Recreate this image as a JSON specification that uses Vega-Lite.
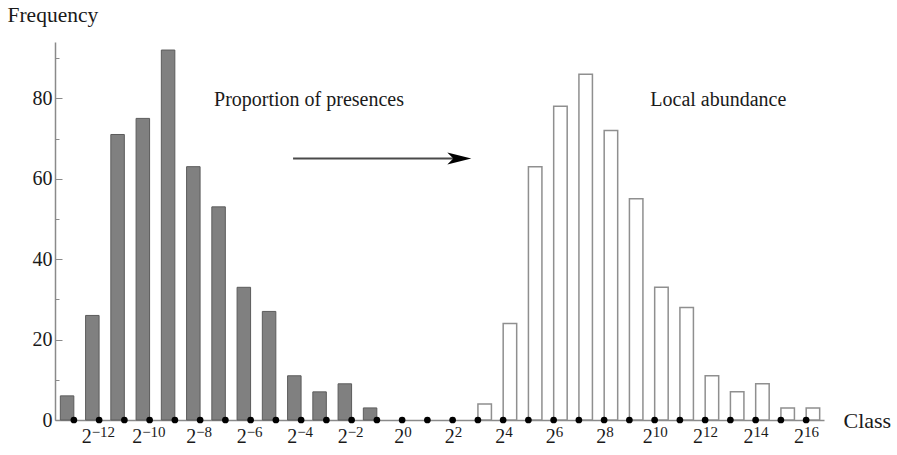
{
  "$schema": "https://vega.github.io/schema/vega-lite/v6.json",
  "width": 769,
  "height": 378,
  "padding": {"left": 55, "top": 42, "right": 73, "bottom": 35},
  "autosize": {"type": "none"},
  "background": "white",
  "config": {
    "view": {"stroke": null},
    "font": "Liberation Serif",
    "axis": {
      "labelFont": "Liberation Serif",
      "titleFont": "Liberation Serif",
      "labelColor": "#1a1a1a",
      "titleColor": "#1a1a1a",
      "titleFontWeight": "normal",
      "grid": false
    },
    "text": {"font": "Liberation Serif", "color": "#1a1a1a"}
  },
  "datasets": {
    "classes": [
      {"exponent": -13, "series": "Proportion of presences", "frequency": 6},
      {"exponent": -12, "series": "Proportion of presences", "frequency": 26},
      {"exponent": -11, "series": "Proportion of presences", "frequency": 71},
      {"exponent": -10, "series": "Proportion of presences", "frequency": 75},
      {"exponent": -9, "series": "Proportion of presences", "frequency": 92},
      {"exponent": -8, "series": "Proportion of presences", "frequency": 63},
      {"exponent": -7, "series": "Proportion of presences", "frequency": 53},
      {"exponent": -6, "series": "Proportion of presences", "frequency": 33},
      {"exponent": -5, "series": "Proportion of presences", "frequency": 27},
      {"exponent": -4, "series": "Proportion of presences", "frequency": 11},
      {"exponent": -3, "series": "Proportion of presences", "frequency": 7},
      {"exponent": -2, "series": "Proportion of presences", "frequency": 9},
      {"exponent": -1, "series": "Proportion of presences", "frequency": 3},
      {"exponent": 0, "series": "Proportion of presences", "frequency": 0},
      {"exponent": 1, "series": "Proportion of presences", "frequency": 0},
      {"exponent": 2, "series": "Local abundance", "frequency": 0},
      {"exponent": 3, "series": "Local abundance", "frequency": 4},
      {"exponent": 4, "series": "Local abundance", "frequency": 24},
      {"exponent": 5, "series": "Local abundance", "frequency": 63},
      {"exponent": 6, "series": "Local abundance", "frequency": 78},
      {"exponent": 7, "series": "Local abundance", "frequency": 86},
      {"exponent": 8, "series": "Local abundance", "frequency": 72},
      {"exponent": 9, "series": "Local abundance", "frequency": 55},
      {"exponent": 10, "series": "Local abundance", "frequency": 33},
      {"exponent": 11, "series": "Local abundance", "frequency": 28},
      {"exponent": 12, "series": "Local abundance", "frequency": 11},
      {"exponent": 13, "series": "Local abundance", "frequency": 7},
      {"exponent": 14, "series": "Local abundance", "frequency": 9},
      {"exponent": 15, "series": "Local abundance", "frequency": 3},
      {"exponent": 16, "series": "Local abundance", "frequency": 3}
    ],
    "notes": [
      {"exponent": -7.45, "frequency": 78, "text": "Proportion of presences"},
      {"exponent": 9.83, "frequency": 78, "text": "Local abundance"}
    ],
    "arrow": [
      {"from": -4.32, "to": 2.74, "frequency": 65}
    ]
  },
  "layer": [
    {
      "data": {"name": "classes"},
      "transform": [{"filter": "datum.series === 'Proportion of presences' && datum.frequency > 0"}],
      "mark": {"type": "bar", "width": 13.5, "xOffset": -6.8, "fill": "#808080", "stroke": "#5c5c5c", "strokeWidth": 1},
      "encoding": {
        "x": {
          "field": "exponent",
          "type": "quantitative",
          "scale": {"domain": [-13.55, 16.51], "nice": false, "zero": false},
          "axis": {
            "values": [-12, -10, -8, -6, -4, -2, 0, 2, 4, 6, 8, 10, 12, 14, 16],
            "ticks": false,
            "labels": false,
            "domainColor": "#8a8a8a",
            "domainWidth": 1.5,
            "title": "Class",
            "titleFontSize": 22,
            "titleAlign": "left",
            "titleBaseline": "middle",
            "titleX": 788,
            "titleY": 0
          }
        },
        "y": {
          "field": "frequency",
          "type": "quantitative",
          "scale": {"domain": [0, 94], "nice": false},
          "axis": {
            "values": [0, 5, 10, 15, 20, 25, 30, 35, 40, 45, 50, 55, 60, 65, 70, 75, 80, 85, 90],
            "labelExpr": "datum.value % 20 === 0 ? datum.label : ''",
            "tickSize": {"condition": {"test": "datum.value % 20 === 0", "value": -7}, "value": -4},
            "tickColor": "#8a8a8a",
            "domainColor": "#8a8a8a",
            "domainWidth": 1.5,
            "labelFontSize": 20,
            "labelPadding": 10,
            "title": "Frequency",
            "titleFontSize": 21.5,
            "titleAngle": 0,
            "titleAlign": "left",
            "titleBaseline": "middle",
            "titleX": -48,
            "titleY": -27
          }
        }
      }
    },
    {
      "data": {"name": "classes"},
      "transform": [{"filter": "datum.series === 'Local abundance' && datum.frequency > 0"}],
      "mark": {"type": "bar", "width": 13.5, "xOffset": 6.8, "fill": "white", "stroke": "#8f8f8f", "strokeWidth": 1.5},
      "encoding": {
        "x": {"field": "exponent", "type": "quantitative"},
        "y": {"field": "frequency", "type": "quantitative"}
      }
    },
    {
      "data": {"name": "classes"},
      "mark": {"type": "point", "filled": true, "color": "black", "size": 45, "opacity": 1},
      "encoding": {
        "x": {"field": "exponent", "type": "quantitative"},
        "y": {"datum": 0}
      }
    },
    {
      "data": {"name": "classes"},
      "transform": [{"filter": "datum.exponent % 2 === 0 && datum.exponent <= -10"}],
      "mark": {"type": "text", "align": "right", "baseline": "alphabetic", "fontSize": 20, "xOffset": -7.5, "yOffset": 22.7},
      "encoding": {"x": {"field": "exponent", "type": "quantitative"}, "y": {"datum": 0}, "text": {"value": "2"}}
    },
    {
      "data": {"name": "classes"},
      "transform": [{"filter": "datum.exponent % 2 === 0 && datum.exponent <= -10"}],
      "mark": {"type": "text", "align": "left", "baseline": "alphabetic", "fontSize": 15, "xOffset": -7.5, "yOffset": 16.5},
      "encoding": {"x": {"field": "exponent", "type": "quantitative"}, "y": {"datum": 0}, "text": {"field": "exponent", "type": "quantitative", "format": "d"}}
    },
    {
      "data": {"name": "classes"},
      "transform": [{"filter": "datum.exponent % 2 === 0 && datum.exponent > -10 && datum.exponent < 0"}],
      "mark": {"type": "text", "align": "right", "baseline": "alphabetic", "fontSize": 20, "xOffset": -4, "yOffset": 22.7},
      "encoding": {"x": {"field": "exponent", "type": "quantitative"}, "y": {"datum": 0}, "text": {"value": "2"}}
    },
    {
      "data": {"name": "classes"},
      "transform": [{"filter": "datum.exponent % 2 === 0 && datum.exponent > -10 && datum.exponent < 0"}],
      "mark": {"type": "text", "align": "left", "baseline": "alphabetic", "fontSize": 15, "xOffset": -4, "yOffset": 16.5},
      "encoding": {"x": {"field": "exponent", "type": "quantitative"}, "y": {"datum": 0}, "text": {"field": "exponent", "type": "quantitative", "format": "d"}}
    },
    {
      "data": {"name": "classes"},
      "transform": [{"filter": "datum.exponent % 2 === 0 && datum.exponent >= 0 && datum.exponent < 10"}],
      "mark": {"type": "text", "align": "right", "baseline": "alphabetic", "fontSize": 20, "xOffset": 2, "yOffset": 22.7},
      "encoding": {"x": {"field": "exponent", "type": "quantitative"}, "y": {"datum": 0}, "text": {"value": "2"}}
    },
    {
      "data": {"name": "classes"},
      "transform": [{"filter": "datum.exponent % 2 === 0 && datum.exponent >= 0 && datum.exponent < 10"}],
      "mark": {"type": "text", "align": "left", "baseline": "alphabetic", "fontSize": 15, "xOffset": 2, "yOffset": 16.5},
      "encoding": {"x": {"field": "exponent", "type": "quantitative"}, "y": {"datum": 0}, "text": {"field": "exponent", "type": "quantitative", "format": "d"}}
    },
    {
      "data": {"name": "classes"},
      "transform": [{"filter": "datum.exponent % 2 === 0 && datum.exponent >= 10"}],
      "mark": {"type": "text", "align": "right", "baseline": "alphabetic", "fontSize": 20, "xOffset": -2, "yOffset": 22.7},
      "encoding": {"x": {"field": "exponent", "type": "quantitative"}, "y": {"datum": 0}, "text": {"value": "2"}}
    },
    {
      "data": {"name": "classes"},
      "transform": [{"filter": "datum.exponent % 2 === 0 && datum.exponent >= 10"}],
      "mark": {"type": "text", "align": "left", "baseline": "alphabetic", "fontSize": 15, "xOffset": -2, "yOffset": 16.5},
      "encoding": {"x": {"field": "exponent", "type": "quantitative"}, "y": {"datum": 0}, "text": {"field": "exponent", "type": "quantitative", "format": "d"}}
    },
    {
      "data": {"name": "notes"},
      "mark": {"type": "text", "align": "left", "baseline": "alphabetic", "fontSize": 20},
      "encoding": {
        "x": {"field": "exponent", "type": "quantitative"},
        "y": {"field": "frequency", "type": "quantitative"},
        "text": {"field": "text"}
      }
    },
    {
      "data": {"name": "arrow"},
      "mark": {"type": "rule", "color": "#4a4a4a", "strokeWidth": 2, "x2Offset": -12},
      "encoding": {
        "x": {"field": "from", "type": "quantitative"},
        "x2": {"field": "to"},
        "y": {"field": "frequency", "type": "quantitative"}
      }
    },
    {
      "data": {"name": "arrow"},
      "mark": {"type": "point", "filled": true, "color": "black", "opacity": 1, "size": 576, "xOffset": -12, "shape": "M1,0 L-1,-0.5 L-0.5,0 L-1,0.5 Z"},
      "encoding": {
        "x": {"field": "to", "type": "quantitative"},
        "y": {"field": "frequency", "type": "quantitative"}
      }
    }
  ]
}
